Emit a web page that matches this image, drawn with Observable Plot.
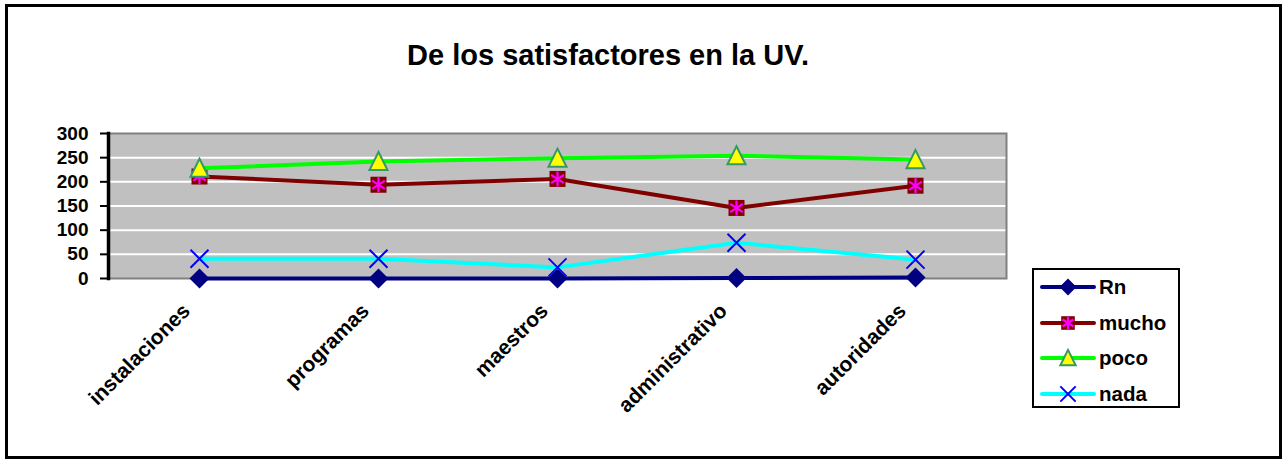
<!DOCTYPE html>
<html>
<head>
<meta charset="utf-8">
<script src="https://cdn.jsdelivr.net/npm/d3@7"></script>
<script src="https://cdn.jsdelivr.net/npm/@observablehq/plot@0.6"></script>
<style>
  html, body { margin: 0; padding: 0; background: #fff; }
  #wrap { position: relative; width: 1284px; height: 461px; overflow: hidden; font-family: "Liberation Sans", Arial, sans-serif; }
  #border { position: absolute; left: 5px; top: 4px; width: 1271px; height: 449px; border: 3px solid #000; }
  #title { position: absolute; left: 208px; top: 41px; width: 800px; text-align: center; font-size: 29px; line-height: 28px; font-weight: bold; color: #000; }
  #chart { position: absolute; left: 0; top: 0; }
  #legend { position: absolute; left: 1032px; top: 268px; width: 144px; height: 136px; border: 2px solid #000; background: #fff; }
  .item { position: absolute; left: 6px; height: 24px; display: flex; align-items: center; }
  .item span { font-size: 20.5px; font-weight: bold; margin-left: 3px; color: #000; }
</style>
</head>
<body>
<div id="wrap">
  <div id="border"></div>
  <div id="title">De los satisfactores en la UV.</div>
  <div id="chart"></div>
  <div id="legend"></div>
</div>
<script>
// ---- data ----
const categories = ["instalaciones", "programas", "maestros", "administrativo", "autoridades"];
const seriesNames = ["Rn", "mucho", "poco", "nada"];
const rnValues = [0, 0, 0, 1, 2];
const muchoValues = [211, 194, 206, 146, 192];
const pocoValues = [228, 242, 249, 254, 246];
const nadaValues = [41, 41, 23, 74, 39];
const yTicks = [0, 50, 100, 150, 200, 250, 300];
const gridValues = [50, 100, 150, 200, 250];

// ---- custom symbols ----
const rOf = (size) => Math.sqrt(size / Math.PI);
const diamondSym = { draw(ctx, size) { const r = rOf(size); ctx.moveTo(0, -r); ctx.lineTo(r, 0); ctx.lineTo(0, r); ctx.lineTo(-r, 0); ctx.closePath(); } };
const squareSym = { draw(ctx, size) { const r = rOf(size); ctx.rect(-r, -r, 2 * r, 2 * r); } };
const asteriskSym = { draw(ctx, size) { const r = rOf(size);
  ctx.moveTo(0, -r); ctx.lineTo(0, r);
  ctx.moveTo(-r * 0.85, -r * 0.55); ctx.lineTo(r * 0.85, r * 0.55);
  ctx.moveTo(r * 0.85, -r * 0.55); ctx.lineTo(-r * 0.85, r * 0.55); } };
const triangleSym = { draw(ctx, size) { const r = rOf(size); ctx.moveTo(0, -r); ctx.lineTo(r * 0.95, r * 0.9); ctx.lineTo(-r * 0.95, r * 0.9); ctx.closePath(); } };
const xSym = { draw(ctx, size) { const r = rOf(size); ctx.moveTo(-r, -r); ctx.lineTo(r, r); ctx.moveTo(r, -r); ctx.lineTo(-r, r); } };

// ---- series styling ----
const series = [
  { name: seriesNames[0], values: rnValues, line: "#000080",
    markers: [{ symbol: diamondSym, r: 10, fill: "#000080", stroke: "none", sw: 0 }] },
  { name: seriesNames[1], values: muchoValues, line: "#800000",
    markers: [{ symbol: squareSym, r: 8, fill: "#800000", stroke: "none", sw: 0 },
              { symbol: asteriskSym, r: 7.5, fill: "none", stroke: "#FF00FF", sw: 2.2 }] },
  { name: seriesNames[2], values: pocoValues, line: "#00FF00",
    markers: [{ symbol: triangleSym, r: 9.5, fill: "#FFFF00", stroke: "#339966", sw: 2 }] },
  { name: seriesNames[3], values: nadaValues, line: "#00FFFF",
    markers: [{ symbol: xSym, r: 9, fill: "none", stroke: "#0000FF", sw: 2 }] }
];

const rows = series.map(s => categories.map((c, i) => ({ cat: c, series: s.name, value: s.values[i] })));

const marks = [
  Plot.frame({ fill: "#C0C0C0", stroke: null }),
  Plot.ruleY(gridValues, { stroke: "#FFFFFF", strokeWidth: 2 }),
  Plot.frame({ stroke: "#808080", strokeWidth: 2 }),
  Plot.frame({ anchor: "left", stroke: "#000", strokeWidth: 3.5 }),
  Plot.axisY({ ticks: yTicks, tickSize: 8, tickPadding: 12, tickFormat: d => String(d), fontSize: 19, stroke: "#000", strokeWidth: 2, fill: "#000" }),
  Plot.axisX({ tickSize: 0, tickRotate: -45, tickPadding: 12, fontSize: 21, fill: "#000", dx: -13, dy: 17 })
];
series.forEach((s, k) => {
  marks.push(Plot.line(rows[k], { x: "cat", y: "value", stroke: s.line, strokeWidth: 4, strokeLinejoin: "round" }));
  s.markers.forEach(m => {
    marks.push(Plot.dot(rows[k], { x: "cat", y: "value", symbol: m.symbol, r: m.r, fill: m.fill, stroke: m.stroke, strokeWidth: m.sw }));
  });
});

const chart = Plot.plot({
  width: 1284,
  height: 461,
  marginLeft: 108,
  marginRight: 278,
  marginTop: 133,
  marginBottom: 183,
  style: { fontFamily: "Liberation Sans, Arial, sans-serif", fontWeight: "bold", fontSize: "18px", background: "transparent", overflow: "visible", color: "#000" },
  x: { type: "point", domain: categories, padding: 0.5, label: null },
  y: { domain: [0, 300], label: null },
  marks
});
document.getElementById("chart").appendChild(chart);

// ---- legend ----
const legend = d3.select("#legend");
series.forEach((s, k) => {
  const item = legend.append("div").attr("class", "item").style("top", (5 + k * 35.5) + "px");
  const svg = item.append("svg").attr("width", 56).attr("height", 24);
  svg.append("line").attr("x1", 2).attr("x2", 54).attr("y1", 12).attr("y2", 12)
    .attr("stroke", s.line).attr("stroke-width", 4).attr("stroke-linecap", "round");
  s.markers.forEach(m => {
    const p = d3.path();
    const rr = m.r * 0.85;
    m.symbol.draw(p, rr * rr * Math.PI);
    svg.append("path").attr("d", p.toString()).attr("transform", "translate(28,12)")
      .attr("fill", m.fill).attr("stroke", m.stroke).attr("stroke-width", m.sw);
  });
  item.append("span").text(s.name);
});
</script>
</body>
</html>
